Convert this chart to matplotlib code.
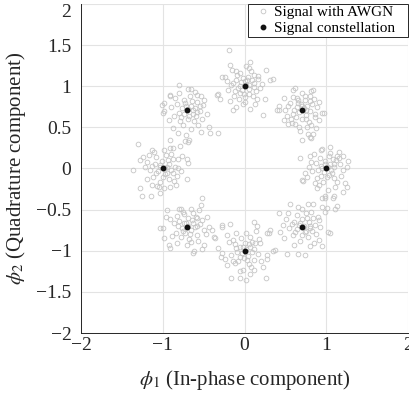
import numpy as np
import matplotlib
matplotlib.use('Agg')
import matplotlib.pyplot as plt
from matplotlib.patches import Rectangle

plt.rcParams['font.family'] = ['Liberation Serif', 'DejaVu Serif']
plt.rcParams['mathtext.fontset'] = 'stix'

# 8-PSK constellation
sym_i = [1.0, 0.707, 0.0, -0.707, -1.0, -0.707, 0.0, 0.707]
sym_q = [0.0, 0.707, 1.0, 0.707, 0.0, -0.707, -1.0, -0.707]

off_right = [(-0.05,0.24),(-0.07,0.22),(-0.20,0.15),(-0.26,-0.06),(-0.29,-0.15),(-0.11,-0.24),(-0.05,-0.36),(0.13,-0.16),
    (0.21,-0.28),(0.25,-0.22),(0.27,0.09),(0.25,0.02),(0.13,0.15),(0.21,0.15),(0.03,0.15),(0.13,-0.46),(-0.01,-0.34),
    (-0.32,0.13),(-0.30,-0.14),(-0.24,-0.10),(0.23,-0.18),(0.09,-0.34),(-0.11,-0.12),
    (0.02,0.02),(-0.03,-0.04),(0.05,0.06),(-0.06,0.03),(0.07,-0.05),(-0.02,0.09),(0.10,0.02),(-0.10,-0.02),(0.01,-0.10),
    (0.12,0.10),(-0.13,0.07),(0.09,-0.12),(-0.08,0.13),(0.17,0.05),(-0.17,-0.03),(0.04,0.19),(-0.04,-0.17),(0.18,-0.09),
    (-0.15,0.18),(0.15,0.20),(0.00,0.00),(-0.07,-0.09),(0.08,0.12),(0.03,-0.08),(-0.01,0.05),(0.06,-0.02),(-0.19,0.08),
    (0.20,-0.02),(-0.09,-0.20),(0.11,-0.22),(0.04,0.26),(-0.14,-0.18),(0.16,0.13),(-0.21,0.02),(0.02,-0.26),(0.09,0.05),(-0.05,0.01)]
off_topright = [(-0.11,0.25),(0.11,0.24),(0.09,0.17),(-0.23,0.15),(-0.28,0.05),(-0.29,0.01),(-0.19,-0.07),(-0.09,-0.17),
    (-0.03,-0.25),(0.07,-0.29),(0.13,-0.29),(0.17,-0.22),(0.15,-0.05),(0.24,-0.03),(0.05,-0.11),(-0.05,0.09),(-0.15,0.09),
    (0.03,0.13),(-0.11,-0.05),(-0.21,0.01),(-0.01,-0.36),(0.13,0.25),(-0.09,0.27),(-0.31,0.01),(0.26,-0.03),(0.11,-0.34),
    (-0.13,-0.15),(0.09,-0.33),
    (0.02,0.03),(-0.04,-0.02),(0.06,0.05),(-0.07,0.04),(0.04,-0.06),(-0.02,0.08),(0.09,-0.01),(-0.10,0.00),(0.00,-0.10),
    (0.12,0.08),(-0.14,-0.10),(0.08,-0.14),(-0.06,0.15),(0.18,0.04),(-0.17,0.05),(0.03,0.18),(-0.04,-0.20),(0.20,-0.12),
    (-0.22,-0.12),(0.14,0.14),(0.01,0.01),(-0.08,-0.08),(0.10,0.11),(-0.12,0.16),(0.06,-0.20),(0.16,-0.08),(-0.01,0.05),
    (0.05,0.00),(-0.05,0.12),(0.21,0.10),(-0.18,-0.17),(0.00,0.21),(0.11,-0.18)]
off_top = [(-0.19,0.44),(-0.18,0.26),(0.07,0.30),(0.26,0.20),(0.02,0.24),(-0.10,0.19),(-0.28,0.11),(-0.24,0.11),(0.35,0.09),
    (0.31,0.07),(-0.33,-0.09),(0.23,-0.35),(0.07,-0.28),(-0.14,-0.29),(-0.02,-0.22),(0.15,-0.16),(0.25,-0.15),(-0.20,-0.04),
    (-0.14,0.04),(0.11,0.04),(0.19,-0.02),(-0.09,0.14),(0.03,0.08),(0.12,0.14),(-0.13,-0.12),(-0.06,-0.08),(0.05,-0.10),
    (-0.18,-0.18),(-0.30,-0.16),(-0.07,-0.16),
    (0.02,0.02),(-0.04,0.05),(0.06,-0.03),(-0.08,-0.02),(0.09,0.07),(-0.03,-0.05),(0.04,0.11),(-0.11,0.08),(0.14,-0.06),
    (0.00,-0.13),(-0.05,0.16),(0.08,0.18),(-0.16,0.02),(0.17,0.09),(0.10,-0.12),(-0.02,0.10),(0.21,0.03),(-0.22,0.06),
    (0.01,-0.19),(-0.10,-0.25),(0.13,-0.22),(0.06,0.01),(-0.06,0.00),(0.00,0.06),(0.11,-0.01),(-0.12,-0.06),(0.16,0.13),
    (-0.01,-0.09),(0.05,0.22),(-0.15,0.20)]
off_topleft = [(-0.09,0.31),(0.01,0.26),(0.05,0.26),(0.13,0.19),(0.17,0.17),(0.21,0.13),(0.27,-0.20),(0.17,-0.26),
    (0.29,-0.28),(0.03,-0.36),(-0.01,-0.30),(-0.11,-0.28),(-0.17,-0.22),(-0.28,-0.01),(-0.30,0.07),(-0.28,0.09),(-0.20,0.17),
    (0.16,-0.01),(0.19,-0.11),(0.11,-0.07),(0.38,-0.27),(-0.20,0.19),(-0.29,-0.03),(0.01,-0.38),(0.25,-0.05),(0.37,0.19),
    (-0.20,-0.36),
    (0.02,0.02),(-0.03,-0.04),(0.05,0.05),(-0.06,0.03),(0.07,-0.05),(-0.02,0.09),(0.10,0.03),(-0.10,-0.03),(0.01,-0.10),
    (0.12,0.10),(-0.12,0.08),(0.09,-0.13),(-0.08,-0.13),(0.16,0.05),(-0.16,-0.07),(0.04,0.17),(-0.05,-0.18),(0.14,-0.18),
    (-0.14,0.15),(0.00,0.00),(-0.07,-0.08),(0.06,0.11),(0.03,-0.07),(-0.01,0.05),(0.08,0.00),(-0.19,0.04),(0.20,0.07),
    (-0.09,0.21),(0.10,0.22),(-0.22,-0.12),(0.05,-0.23),(0.13,-0.02),(-0.04,0.13)]
off_left = [(-0.30,0.30),(-0.36,-0.02),(-0.28,0.10),(-0.28,-0.24),(-0.25,-0.34),(-0.13,-0.20),(-0.05,-0.22),(0.01,-0.24),
    (0.09,-0.22),(0.16,-0.20),(0.29,-0.13),(0.31,0.07),(0.24,0.15),(0.27,0.33),(0.21,0.27),(0.13,0.25),(0.09,0.25),
    (0.01,0.23),(-0.13,0.23),(-0.17,0.17),(0.19,0.00),(-0.15,-0.34),(-0.03,-0.30),(0.30,0.11),(-0.22,0.02),
    (0.02,0.01),(-0.03,0.04),(0.05,-0.05),(-0.06,-0.03),(0.08,0.06),(-0.01,0.09),(0.10,-0.02),(-0.10,0.06),(0.00,-0.10),
    (0.12,0.11),(-0.12,-0.10),(0.07,-0.13),(-0.08,0.14),(0.15,0.02),(-0.16,-0.02),(0.04,0.16),(-0.04,-0.17),(0.17,-0.09),
    (-0.19,0.08),(0.01,0.00),(-0.09,-0.06),(0.06,0.10),(0.03,-0.07),(-0.04,0.02),(0.12,-0.05),(-0.13,0.03),(0.19,0.12),
    (-0.20,-0.13),(0.10,0.18),(-0.07,-0.21),(0.22,-0.03),(-0.24,0.14),(0.05,0.02),(0.14,-0.15),(-0.11,0.20)]
off_botleft = [(-0.07,0.22),(-0.05,0.18),(0.05,0.22),(0.15,0.20),(0.25,0.12),(0.27,0.00),(0.33,-0.13),(0.35,-0.14),
    (0.19,-0.27),(0.08,-0.32),(0.05,-0.19),(-0.12,-0.20),(-0.22,-0.22),(-0.28,-0.14),(-0.33,-0.02),(-0.26,0.12),(-0.24,0.20),
    (0.13,0.10),(0.21,-0.04),(0.19,0.35),(-0.09,0.21),(0.17,0.26),(0.31,-0.04),(0.21,-0.22),(0.09,-0.30),(-0.20,-0.26),
    (0.43,0.00),(-0.29,-0.02),
    (0.02,0.01),(-0.03,0.04),(0.05,-0.04),(-0.06,-0.02),(0.08,0.05),(-0.02,-0.08),(0.10,-0.01),(-0.09,0.07),(0.01,0.10),
    (0.12,-0.10),(-0.13,-0.08),(0.11,0.12),(-0.07,-0.13),(0.16,0.03),(-0.16,0.04),(0.03,-0.15),(-0.04,0.15),(0.14,-0.17),
    (-0.18,-0.11),(0.00,0.00),(-0.05,-0.05),(0.06,0.08),(0.04,-0.09),(-0.11,0.01),(0.13,0.01),(-0.01,0.05),(0.19,0.08),
    (-0.20,0.09),(0.07,0.17),(-0.12,0.13),(0.23,-0.09),(0.00,-0.22)]
off_bottom = [(-0.18,0.33),(0.11,0.35),(0.15,0.30),(0.30,0.21),(0.35,0.00),(0.27,-0.05),(0.23,-0.20),(0.26,-0.33),
    (0.02,-0.35),(-0.06,-0.33),(-0.17,-0.33),(-0.22,-0.17),(-0.29,-0.07),(-0.28,-0.03),(-0.33,0.03),(-0.14,0.13),(0.19,0.09),
    (0.07,0.17),(0.11,-0.23),(-0.12,-0.15),(-0.02,-0.23),(0.27,-0.10),(-0.28,0.31),(-0.24,-0.10),
    (0.02,0.02),(-0.03,-0.03),(0.04,-0.06),(-0.06,0.04),(0.07,0.05),(-0.01,-0.09),(0.09,-0.02),(-0.09,-0.01),(0.00,0.10),
    (0.11,-0.11),(-0.12,0.08),(0.13,0.09),(-0.08,-0.12),(0.16,-0.04),(-0.16,-0.05),(0.05,-0.16),(-0.04,0.16),(0.18,0.14),
    (-0.19,0.11),(0.08,-0.20),(0.00,0.00),(-0.06,-0.07),(0.05,0.08),(0.03,-0.11),(-0.10,0.03),(0.12,0.02),(-0.14,-0.12),
    (0.02,0.22),(-0.05,-0.25),(0.20,-0.13),(-0.21,0.19),(0.14,0.24),(-0.11,0.21),(0.07,-0.28),(-0.02,0.05),(0.09,0.11)]
off_botright = [(-0.15,0.28),(0.07,0.28),(0.13,0.28),(0.24,0.24),(0.28,0.18),(-0.28,0.17),(-0.43,-0.08),(-0.40,-0.04),
    (-0.27,-0.06),(-0.19,-0.33),(-0.05,-0.33),(0.09,-0.24),(0.24,-0.24),(0.32,-0.06),(0.34,-0.08),(0.20,0.08),(0.28,0.35),
    (0.38,0.35),(0.20,-0.16),(-0.17,0.16),(-0.33,-0.28),(0.03,-0.34),(0.40,0.21),(0.30,0.23),(-0.24,0.02),
    (0.02,0.01),(-0.03,0.04),(0.05,-0.05),(-0.06,-0.03),(0.08,0.06),(-0.01,0.09),(0.10,-0.02),(-0.10,0.06),(0.00,-0.10),
    (0.13,0.11),(-0.12,-0.10),(0.07,-0.13),(-0.07,0.14),(0.16,0.02),(-0.16,-0.02),(0.04,0.17),(-0.03,-0.18),(0.17,-0.09),
    (-0.20,0.09),(0.11,0.18),(0.01,0.00),(-0.09,-0.06),(0.06,0.10),(0.03,-0.07),(-0.04,0.02),(0.12,-0.05),(-0.13,0.03),
    (0.19,0.12),(-0.10,-0.22),(0.14,-0.20),(-0.22,-0.14),(0.00,0.21),(0.22,-0.01),(-0.05,0.24),(0.09,0.01)]

offsets = [off_right, off_topright, off_top, off_topleft, off_left, off_botleft, off_bottom, off_botright]

xtick_vals = [-2, -1, 0, 1, 2]
ytick_vals = [-2, -1.5, -1, -0.5, 0, 0.5, 1, 1.5, 2]
ytick_lbls = ['\u22122', '\u22121.5', '\u22121', '\u22120.5', '0', '0.5', '1', '1.5', '2']

rx, ry = [], []
for si, sq, offs in zip(sym_i, sym_q, offsets):
    for dx, dy in offs:
        rx.append(si + dx)
        ry.append(sq + dy)

fig = plt.figure(figsize=(4.1, 3.96), dpi=100)
ax = fig.add_axes([0.198, 0.159, 0.797, 0.831])

ax.plot(rx, ry, 'o', ms=3.4, mfc='none', mec='#c4c4c4', mew=0.6, label='Signal with AWGN')
ax.plot(sym_i, sym_q, 'o', ms=3.2, color='#111111', label='Signal constellation')

ax.set_xlim(-2, 2)
ax.set_ylim(-2, 2)
ax.set_xticks(xtick_vals)
ax.set_yticks(ytick_vals)
ax.set_yticklabels(ytick_lbls)
ax.get_yticklabels()[-1].set_va('top')
ax.grid(True, color='#e3e3e3', lw=0.8)
ax.set_axisbelow(True)
for s in ['top', 'right']:
    ax.spines[s].set_visible(False)
for s in ['left', 'bottom']:
    ax.spines[s].set_color('#262626')
    ax.spines[s].set_linewidth(0.7)
ax.tick_params(direction='in', length=0, labelsize=14, colors='#262626', pad=7)
ax.tick_params(axis='x', pad=3)

ax.set_xlabel(r'$\phi_1$ (In-phase component)', fontsize=15, color='#262626', labelpad=10)
ax.set_ylabel(r'$\phi_2$ (Quadrature component)', fontsize=15, color='#262626', labelpad=6)

# legend: tight vertically, wider padding left/right (frame drawn by hand)
ax_w = ax.get_position().width * fig.get_figwidth() * fig.dpi
leg = ax.legend(loc='upper right', bbox_to_anchor=(1 - 11 / ax_w, 1.0), fontsize=11, frameon=False,
                borderaxespad=0.0, borderpad=0.12, handletextpad=0.25, handlelength=1.0,
                labelspacing=0.12)
fig.canvas.draw()
bb = leg.get_window_extent().transformed(ax.transAxes.inverted())
frame = Rectangle((bb.x0 - 5 / ax_w, bb.y0), 1.0 - (bb.x0 - 5 / ax_w), 1.0 - bb.y0,
                  transform=ax.transAxes, facecolor='white', edgecolor='#262626', lw=0.7,
                  zorder=4.9, clip_on=False)
ax.add_patch(frame)
leg.set_zorder(5)

plt.savefig('out.png', dpi=100)
